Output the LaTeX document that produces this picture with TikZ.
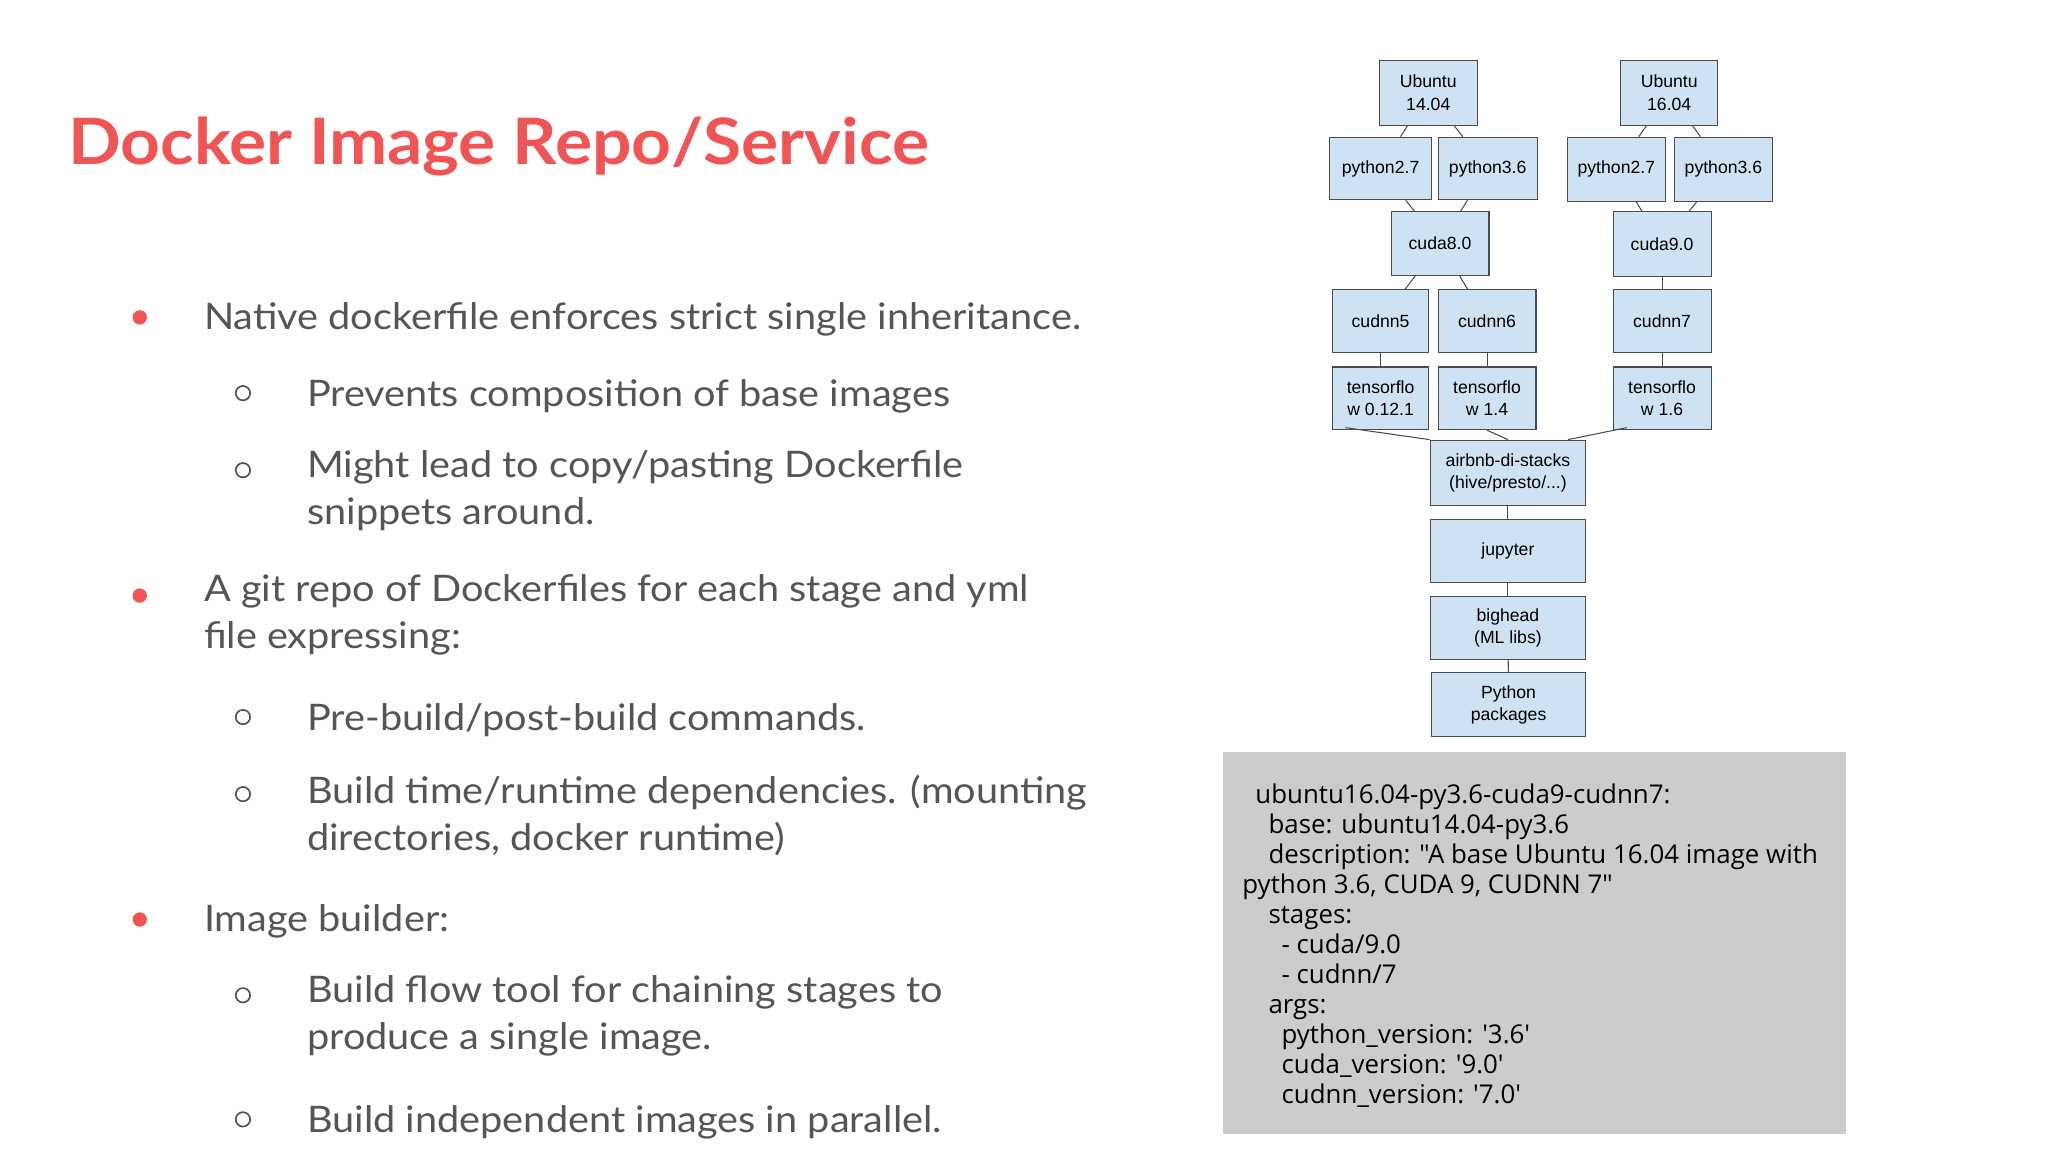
\documentclass[tikz,border=0pt]{standalone}
\usepackage{fontspec}
\setmainfont{Lato}[FakeStretch=1.085]
\newfontfamily\boxfont{Liberation Sans}
\newfontfamily\codefont{Open Sans}
\definecolor{titlered}{HTML}{F05454}
\definecolor{bodygray}{HTML}{555555}
\definecolor{boxblue}{HTML}{CFE2F3}
\definecolor{codebg}{HTML}{CCCCCC}
\begin{document}
\begin{tikzpicture}[x=1pt,y=-1pt,
  bx/.style={draw=black!70,fill=boxblue,line width=0.8pt,font=\boxfont\fontsize{13.5}{17}\selectfont,align=center,inner sep=0pt},
  ln/.style={draw=black!70,line width=0.8pt},
  body/.style={anchor=base west,text=bodygray,font=\fontsize{28}{36}\selectfont,inner sep=0pt},
  bodym/.style={anchor=north west,text=bodygray,font=\fontsize{28}{36}\selectfont,inner sep=0pt,align=left},
  dot/.style={circle,fill=titlered,inner sep=0pt,minimum size=11pt},
  ring/.style={circle,draw=bodygray,line width=1.3pt,inner sep=0pt,minimum size=11pt},
  code/.style={anchor=base west,font=\codefont\fontsize{19.8}{23}\selectfont,inner sep=0pt,text=black}]
\useasboundingbox[fill=white] (0,0) rectangle (1568,882);
% title
\node[anchor=west,text=titlered,font=\bfseries\fontsize{49}{55}\selectfont,inner sep=0pt] (title) at (52,112) {Docker Image Repo/Service};
% bullets
\node[dot] (b1) at (107,243) {};
\node[body] (t1) at (156,252) {Native dockerfile enforces strict single inheritance.};
\node[ring] (r1) at (186,301) {};
\node[body] (t2) at (235,311) {Prevents composition of base images};
\node[ring] (r2) at (186,360) {};
\node[bodym] (t3) at (235,345) {Might lead to copy/pasting Dockerfile\\snippets around.};
\node[dot] (b2) at (107,456) {};
\node[bodym] (t4) at (156,440) {A git repo of Dockerfiles for each stage and yml\\file expressing:};
\node[ring] (r3) at (186,549) {};
\node[body] (t5) at (235,559) {Pre-build/post-build commands.};
\node[ring] (r4) at (186,608) {};
\node[bodym] (t6) at (235,593) {Build time/runtime dependencies. (mounting\\directories, docker runtime)};
\node[dot] (b3) at (107,704) {};
\node[body] (t7) at (156,713) {Image builder:};
\node[ring] (r5) at (186,762) {};
\node[bodym] (t8) at (235,747) {Build flow tool for chaining stages to\\produce a single image.};
\node[ring] (r6) at (186,857) {};
\node[body] (t9) at (235,867) {Build independent images in parallel.};
% diagram boxes
\newcommand{\bxn}[6]{\node[bx,minimum width=#4-#3,minimum height=#6-#5] (#1) at ({(#3+#4)/2},{(#5+#6)/2+1}) {#2};}
\bxn{ua}{Ubuntu\\14.04}{1056}{1131}{45}{95}
\bxn{ub}{Ubuntu\\16.04}{1241}{1315}{45}{95}
\bxn{pa}{python2.7}{1018}{1096}{104}{152}
\bxn{pb}{python3.6}{1101}{1177}{104}{152}
\bxn{pc}{python2.7}{1200}{1275}{104}{153}
\bxn{pd}{python3.6}{1282}{1357}{104}{153}
\bxn{c8}{cuda8.0}{1065}{1140}{161}{210}
\bxn{c9}{cuda9.0}{1235}{1310}{161}{211}
\bxn{n5}{cudnn5}{1020}{1094}{221}{269}
\bxn{n6}{cudnn6}{1101}{1176}{221}{269}
\bxn{n7}{cudnn7}{1235}{1310}{221}{269}
\bxn{ta}{tensorflo\\w 0.12.1}{1020}{1094}{280}{328}
\bxn{tb}{tensorflo\\w 1.4}{1101}{1176}{280}{328}
\bxn{tc}{tensorflo\\w 1.6}{1235}{1310}{280}{328}
\bxn{air}{airbnb-di-stacks\\(hive/presto/...)}{1095}{1214}{336}{386}
\bxn{jup}{jupyter}{1095}{1214}{397}{445}
\bxn{big}{bighead\\(ML libs)}{1095}{1214}{456}{504}
\bxn{pyp}{Python\\packages}{1096}{1214}{514}{563}
% connectors
\draw[ln] (ua) -- (pa); \draw[ln] (ua) -- (pb);
\draw[ln] (ub) -- (pc); \draw[ln] (ub) -- (pd);
\draw[ln] (pa) -- (c8); \draw[ln] (pb) -- (c8);
\draw[ln] (pc) -- (c9); \draw[ln] (pd) -- (c9);
\draw[ln] (c8) -- (n5); \draw[ln] (c8) -- (n6);
\draw[ln] (c9) -- (n7);
\draw[ln] (n5) -- (ta); \draw[ln] (n6) -- (tb); \draw[ln] (n7) -- (tc);
\draw[ln] ([xshift=-27pt,yshift=2pt]ta.south) -- (air.north west);
\draw[ln] (tb.south) -- (air.north);
\draw[ln] ([xshift=-27pt,yshift=2pt]tc.south) -- ([xshift=-14pt]air.north east);
\draw[ln] (air) -- (jup); \draw[ln] (jup) -- (big); \draw[ln] (big) -- (pyp);
% code box
\node[fill=codebg,minimum width=477pt,minimum height=292pt,inner sep=0pt] (cb) at (1174.5,722) {};
\node[code] (c1) at (961,615) {ubuntu16.04-py3.6-cuda9-cudnn7:};
\node[code] (c2) at (971,638) {base: ubuntu14.04-py3.6};
\node[code] (c3) at (971,661) {description: "A base Ubuntu 16.04 image with};
\node[code] (c4) at (951,684) {python 3.6, CUDA 9, CUDNN 7"};
\node[code] (c5) at (971,707) {stages:};
\node[code] (c6) at (981,730) {- cuda/9.0};
\node[code] (c7) at (981,753) {- cudnn/7};
\node[code] (c8t) at (971,776) {args:};
\node[code] (c9t) at (981,799) {python\_version: '3.6'};
\node[code] (c10) at (981,822) {cuda\_version: '9.0'};
\node[code] (c11) at (981,845) {cudnn\_version: '7.0'};
\end{tikzpicture}
\end{document}
